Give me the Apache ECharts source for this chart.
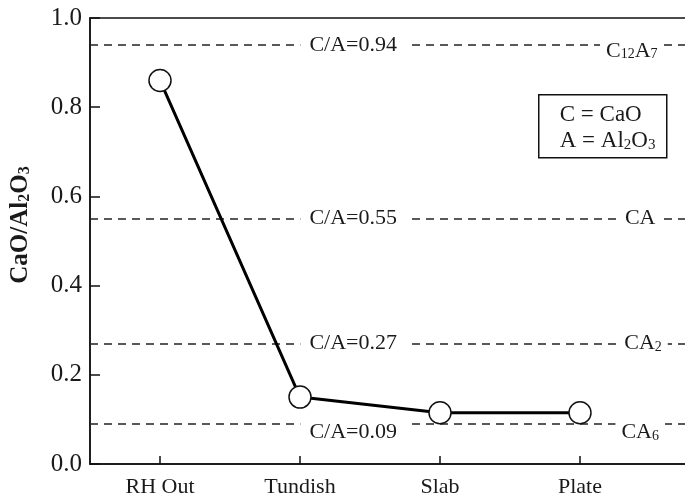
<!DOCTYPE html>
<html>
<head>
<meta charset="utf-8">
<script src="https://cdn.jsdelivr.net/npm/echarts@6/dist/echarts.min.js"></script>
<style>html,body{margin:0;padding:0;background:#fff;}#c{width:685px;height:499px;}</style>
</head>
<body>
<div id="c"></div>
<script>
const categories = ['RH Out', 'Tundish', 'Slab', 'Plate'];
const ratio = [0.86, 0.15, 0.115, 0.115];
const refValues = [0.94, 0.55, 0.27, 0.09];
const refLabels = ['C/A=0.94', 'C/A=0.55', 'C/A=0.27', 'C/A=0.09'];
const phaseLabels = ['C{s|12}A{s|7}', 'CA', 'CA{s|2}', 'CA{s|6}'];
const yTicks = [0, 0.2, 0.4, 0.6, 0.8, 1.0];

const FONT = 'Liberation Serif';
const TXT = '#1a1a1a';
const subRich = { s: { fontFamily: FONT, fontSize: 14, color: TXT, lineHeight: 16, verticalAlign: 'bottom' } };

const catPos = categories.map((c, i) => i + 1);
const midX = 2.38;
const rightX = [4.37, 4.43, 4.45, 4.43];
const labelDy = [0, 0, 0, 8];
const rightDy = [6, 0, 0, 8];

const markPts = [];
refValues.forEach((v, i) => {
  markPts.push({
    coord: [midX, v],
    label: { formatter: refLabels[i], offset: [0, labelDy[i]] }
  });
  markPts.push({
    coord: [rightX[i], v],
    label: { formatter: phaseLabels[i], offset: [0, rightDy[i]], padding: [1, 6] }
  });
});

const chart = echarts.init(document.getElementById('c'));
chart.setOption({
  animation: false,
  backgroundColor: '#fff',
  grid: { left: 90, top: 18, width: 616, bottom: 35, outerBoundsMode: 'none', containLabel: false, show: true, borderColor: '#111', borderWidth: 1.5, backgroundColor: 'transparent' },
  xAxis: {
    type: 'value', min: 0.5, max: 4.9,
    axisLine: { show: true, lineStyle: { color: '#111', width: 1.5 } },
    axisTick: { show: true, inside: true, length: 8, customValues: catPos, lineStyle: { color: '#111', width: 1.5 } },
    axisLabel: { customValues: catPos, formatter: v => categories[Math.round(v) - 1] || '', fontFamily: FONT, fontSize: 22, color: TXT, margin: 12 },
    splitLine: { show: false }
  },
  yAxis: {
    type: 'value', min: 0, max: 1, interval: 0.2,
    name: 'CaO/Al{b|2}O{b|3}',
    nameLocation: 'middle', nameGap: 57, nameRotate: 90,
    nameTextStyle: {
      fontFamily: FONT, fontSize: 25, fontWeight: 'bold', color: TXT, padding: [0, 0, 0, 32],
      rich: { b: { fontFamily: FONT, fontSize: 16, fontWeight: 'bold', color: TXT, lineHeight: 18, verticalAlign: 'bottom' } }
    },
    axisLine: { show: true, lineStyle: { color: '#111', width: 1.5 } },
    axisTick: { show: true, inside: true, length: 10, lineStyle: { color: '#111', width: 1.5 } },
    axisLabel: { formatter: v => v.toFixed(1), fontFamily: FONT, fontSize: 25, color: TXT, margin: 8 },
    splitLine: { show: false }
  },
  series: [
    {
      type: 'line', data: [], z: 1, silent: true,
      markLine: {
        silent: true, symbol: 'none', animation: false,
        lineStyle: { color: '#222', width: 1.5, type: [8, 6] },
        label: { show: false },
        data: refValues.map(v => ({ yAxis: v }))
      },
      markPoint: {
        silent: true, animation: false,
        symbol: 'rect', symbolSize: 1,
        itemStyle: { color: 'rgba(0,0,0,0)' },
        label: {
          show: true, position: 'inside', fontFamily: FONT, fontSize: 22, color: TXT,
          backgroundColor: '#fff', padding: [1, 9], rich: subRich
        },
        data: markPts
      }
    },
    {
      type: 'line', z: 5,
      data: ratio.map((v, i) => [catPos[i], v]),
      symbol: 'circle', symbolSize: 22,
      lineStyle: { color: '#000', width: 3 },
      itemStyle: { color: '#fff', borderColor: '#111', borderWidth: 1.5 }
    }
  ],
  graphic: [
    {
      type: 'group', left: 538, top: 94,
      children: [
        { type: 'rect', shape: { x: 0, y: 0, width: 128, height: 63 }, style: { fill: '#fff', stroke: '#111', lineWidth: 1.5 } },
        { type: 'text', x: 21, y: 20, style: { text: 'C = CaO', font: '23px "Liberation Serif"', fill: TXT, verticalAlign: 'middle' } },
        { type: 'text', x: 21, y: 46, style: { text: 'A = Al{s|2}O{s|3}', font: '23px "Liberation Serif"', fill: TXT, verticalAlign: 'middle', rich: { s: { fontFamily: FONT, fontSize: 15, color: TXT, lineHeight: 17, verticalAlign: 'bottom' } } } }
      ]
    }
  ]
});
</script>
</body>
</html>
